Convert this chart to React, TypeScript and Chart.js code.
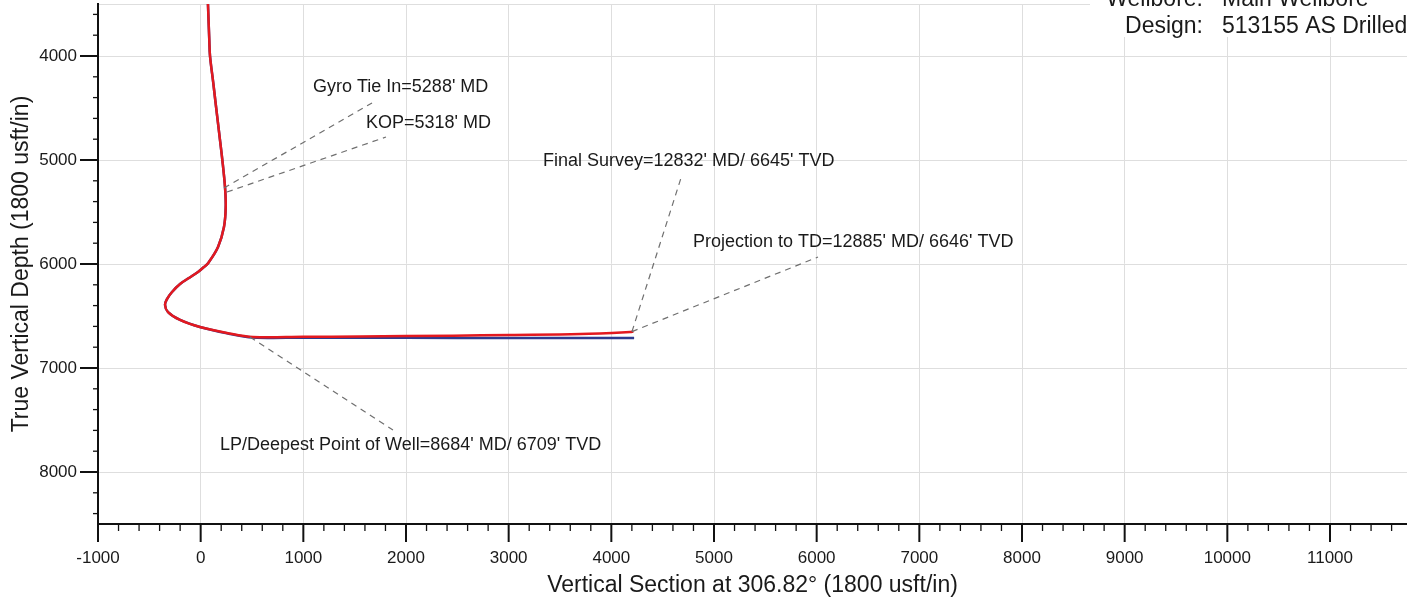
import React, { useEffect, useRef } from "react";
import { Chart, registerables } from "chart.js";

Chart.register(...registerables);

// ---- Data ----
// Actual well path (red): vertical section (usft) and true vertical depth (usft)
const actualVS = [71, 84, 91, 123, 142, 180, 211, 237, 244, 227, 169, 74, 32, -26, -114, -201, -279, -328, -347, -318, -201, -7, 256, 509, 997, 1552, 2458, 3013, 3700, 4182, 4215];
const actualTVD = [3500, 3846, 4000, 4260, 4423, 4740, 5000, 5260, 5452, 5644, 5837, 5990, 6029, 6077, 6135, 6192, 6269, 6337, 6394, 6462, 6538, 6606, 6663, 6702, 6700, 6697, 6689, 6683, 6674, 6655, 6650];
// Plan (blue)
const planVS = [71, 84, 91, 123, 142, 180, 211, 237, 244, 227, 169, 74, 32, -26, -114, -201, -279, -328, -347, -318, -201, -7, 256, 509, 1000, 2000, 3000, 4222];
const planTVD = [3500, 3846, 4000, 4260, 4423, 4740, 5000, 5260, 5452, 5644, 5837, 5990, 6029, 6077, 6135, 6192, 6269, 6337, 6394, 6462, 6538, 6606, 6666, 6706, 6708, 6710, 6711, 6712];

// Axis ranges and ticks
const X_MIN = -1000;
const X_MAX = 11750;
const Y_MIN = 3500;
const Y_MAX = 8500;
const xTickValues = [-1000, 0, 1000, 2000, 3000, 4000, 5000, 6000, 7000, 8000, 9000, 10000, 11000];
const yTickValues = [3500, 4000, 5000, 6000, 7000, 8000];
const yLabelValues = [4000, 5000, 6000, 7000, 8000];
const MINOR_STEP = 200;
const MAJOR_STEP = 1000;

// Annotations: text, point on the well path, leader end, text anchor (all in data units)
const annoTexts = [
  "Gyro Tie In=5288' MD",
  "KOP=5318' MD",
  "Final Survey=12832' MD/ 6645' TVD",
  "Projection to TD=12885' MD/ 6646' TVD",
  "LP/Deepest Point of Well=8684' MD/ 6709' TVD",
];
const annoPointVS = [227, 256, 4201, 4201, 480];
const annoPointTVD = [5269, 5308, 6650, 6650, 6702];
const annoEndVS = [1669, 1805, 4688, 6013, 1873];
const annoEndTVD = [4452, 4779, 5144, 5933, 7596];
const annoTextVS = [1094, 1610, 3334, 4795, 188];
const annoTextTVD = [4346, 4692, 5058, 5837, 7788];

// Header block
const headerLabels = ["Wellbore:", "Design:"];
const headerValues = ["Main Wellbore", "513155 AS Drilled"];

const xTitle = "Vertical Section at 306.82° (1800 usft/in)";
const yTitle = "True Vertical Depth (1800 usft/in)";

const FONT = "'Liberation Sans', Arial, Helvetica, sans-serif";
const INK = "#1a1a1a";
const GRID = "#dedede";

const overlayPlugin = {
  id: "overlay",
  afterDraw(chart: any) {
    const { ctx, chartArea } = chart;
    const x = chart.scales.x;
    const y = chart.scales.y;
    ctx.save();

    // axis ticks (major + minor)
    ctx.strokeStyle = "#111";
    for (let v = X_MIN; v <= X_MAX; v += MINOR_STEP) {
      const px = x.getPixelForValue(v);
      if (px > chartArea.right - 1) break;
      const major = v % MAJOR_STEP === 0;
      ctx.lineWidth = major ? 2 : 1.3;
      ctx.beginPath();
      ctx.moveTo(px, chartArea.bottom);
      ctx.lineTo(px, chartArea.bottom + (major ? 18 : 7));
      ctx.stroke();
    }
    for (let v = Y_MIN + 100; v < Y_MAX; v += MINOR_STEP) {
      const py = y.getPixelForValue(v);
      const major = v % MAJOR_STEP === 0;
      ctx.lineWidth = major ? 2 : 1.3;
      ctx.beginPath();
      ctx.moveTo(chartArea.left, py);
      ctx.lineTo(chartArea.left - (major ? 18 : 5), py);
      ctx.stroke();
    }

    // annotations
    ctx.strokeStyle = "#6f6f6f";
    ctx.lineWidth = 1.2;
    ctx.setLineDash([6, 5]);
    for (let i = 0; i < annoTexts.length; i++) {
      ctx.beginPath();
      ctx.moveTo(x.getPixelForValue(annoPointVS[i]), y.getPixelForValue(annoPointTVD[i]));
      ctx.lineTo(x.getPixelForValue(annoEndVS[i]), y.getPixelForValue(annoEndTVD[i]));
      ctx.stroke();
    }
    ctx.setLineDash([]);
    ctx.fillStyle = INK;
    ctx.font = `18px ${FONT}`;
    ctx.textAlign = "left";
    ctx.textBaseline = "alphabetic";
    for (let i = 0; i < annoTexts.length; i++) {
      ctx.fillText(annoTexts[i], x.getPixelForValue(annoTextVS[i]), y.getPixelForValue(annoTextTVD[i]));
    }

    // header block
    ctx.fillStyle = "#ffffff";
    ctx.fillRect(1090, 0, chart.width - 1090, 37);
    ctx.fillStyle = INK;
    ctx.font = `23px ${FONT}`;
    for (let i = 0; i < headerLabels.length; i++) {
      const by = 6 + i * 27;
      ctx.textAlign = "right";
      ctx.fillText(headerLabels[i], 1203, by);
      ctx.textAlign = "left";
      ctx.fillText(headerValues[i], 1222, by);
    }
    ctx.restore();
  },
};

export default function App() {
  const ref = useRef<HTMLCanvasElement | null>(null);

  useEffect(() => {
    document.body.style.margin = "0";
    const canvas = ref.current;
    if (!canvas) return;
    Chart.defaults.font.family = FONT;

    const actual = actualVS.map((v, i) => ({ x: v, y: actualTVD[i] }));
    const plan = planVS.map((v, i) => ({ x: v, y: planTVD[i] }));

    const chart = new Chart(canvas, {
      type: "scatter",
      data: {
        datasets: [
          {
            label: "Actual",
            data: actual,
            showLine: true,
            borderColor: "#e3191f",
            borderWidth: 2.5,
            pointRadius: 0,
            tension: 0.35,
            fill: false,
          },
          {
            label: "Plan",
            data: plan,
            showLine: true,
            borderColor: "#2e3b8f",
            borderWidth: 2.5,
            pointRadius: 0,
            tension: 0.35,
            fill: false,
          },
        ],
      },
      options: {
        animation: false,
        responsive: true,
        maintainAspectRatio: false,
        layout: { padding: { top: 4, left: 0, right: 0, bottom: 0 } },
        plugins: {
          legend: { display: false },
          tooltip: { enabled: false },
        },
        scales: {
          x: {
            type: "linear",
            position: "bottom",
            min: X_MIN,
            max: X_MAX,
            afterBuildTicks: (s: any) => {
              s.ticks = xTickValues.map((v) => ({ value: v }));
            },
            afterFit: (s: any) => {
              s.height = 79;
              s.paddingLeft = 0;
              s.paddingRight = 0;
            },
            border: { display: true, color: "#111", width: 2 },
            grid: {
              drawTicks: false,
              lineWidth: 1,
              color: (c: any) => (c.tick && c.tick.value !== X_MIN ? GRID : "rgba(0,0,0,0)"),
            },
            ticks: {
              autoSkip: false,
              maxRotation: 0,
              padding: 24,
              color: INK,
              font: { size: 17 },
              callback: (v: any) => String(v),
            },
            title: {
              display: true,
              text: xTitle,
              color: INK,
              font: { size: 23 },
              padding: { top: 0, bottom: 4 },
            },
          },
          y: {
            type: "linear",
            position: "left",
            reverse: true,
            min: Y_MIN,
            max: Y_MAX,
            afterBuildTicks: (s: any) => {
              s.ticks = yTickValues.map((v) => ({ value: v }));
            },
            afterFit: (s: any) => {
              s.width = 98;
              s.paddingTop = 0;
              s.paddingBottom = 0;
            },
            border: { display: true, color: "#111", width: 2 },
            grid: {
              drawTicks: false,
              lineWidth: 1,
              color: GRID,
            },
            ticks: {
              autoSkip: false,
              padding: 21,
              color: INK,
              font: { size: 17 },
              callback: (v: any) => (yLabelValues.includes(v) ? String(v) : ""),
            },
            title: {
              display: true,
              text: yTitle,
              color: INK,
              font: { size: 23 },
              padding: { top: 8, bottom: 0 },
            },
          },
        },
      },
      plugins: [overlayPlugin],
    });
    return () => chart.destroy();
  }, []);

  return (
    <div style={{ position: "absolute", left: 0, top: 0, width: 1407, height: 603, background: "#fff" }}>
      <canvas ref={ref} />
    </div>
  );
}
